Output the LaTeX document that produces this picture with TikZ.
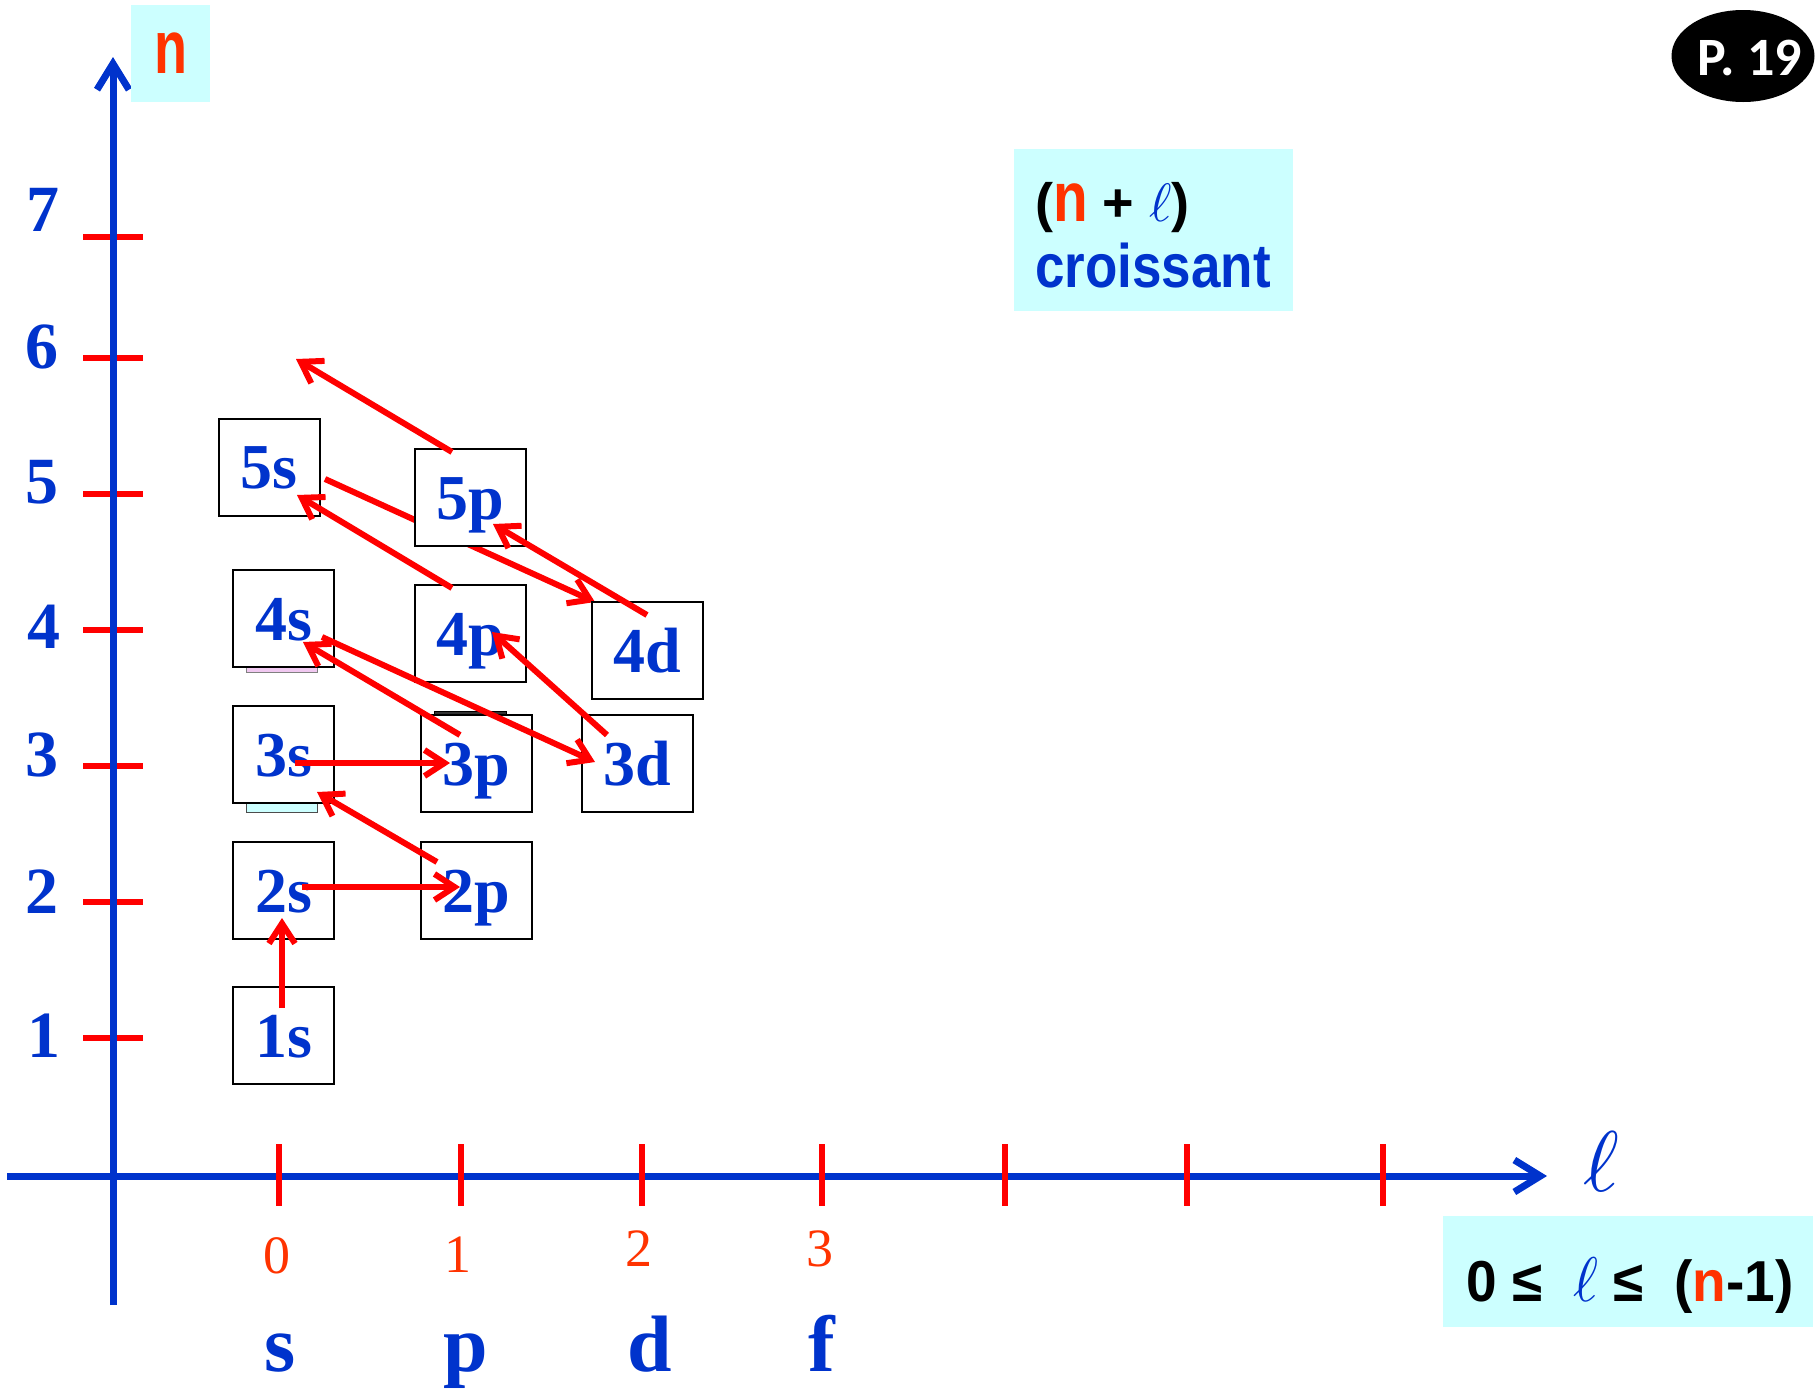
\documentclass[tikz,border=0pt]{standalone}
\usepackage{fontspec}
\usepackage{graphicx}
\usetikzlibrary{arrows.meta, calc, backgrounds, shapes.geometric}

\newfontfamily\orbserif{Liberation Serif}
\newfontfamily\orbsans{Liberation Sans}
\newfontfamily\pagefont{Carlito}

\definecolor{axblue}{HTML}{0033CC}
\definecolor{tickred}{HTML}{FF0000}
\definecolor{nred}{HTML}{FF3300}
\definecolor{boxcyan}{HTML}{CCFFFF}
\definecolor{stripink}{HTML}{F0C8F0}

\newcommand{\fsz}[1]{\fontsize{#1}{#1}\selectfont}
\newcommand{\ellof}[1]{{\fontsize{10}{12}\selectfont\scalebox{#1}{$\ell$}}}

\tikzset{
  axis/.style={axblue, line width=7pt, -{Straight Barb[length=26pt,width=32pt]}},
  tickmark/.style={tickred, line width=6pt},
  arr/.style={tickred, line width=6pt, -{Straight Barb[length=20pt,width=26pt]}},
  orb/.style={draw=black, line width=2pt, fill=white, minimum height=97pt, inner sep=0pt,
    text=axblue, font=\orbserif\bfseries\fsz{64}, text height=43pt, text depth=0pt},
  orbs/.style={orb, minimum width=101pt},
  orbp/.style={orb, minimum width=111pt},
  ylab/.style={text=axblue, font=\orbserif\bfseries\fsz{66}, inner sep=0pt},
  lnum/.style={text=nred, font=\orbserif\fsz{54}, inner sep=0pt},
  lname/.style={text=axblue, font=\orbserif\bfseries\fsz{80}, inner sep=0pt, anchor=base},
  cyanbox/.style={fill=boxcyan, inner sep=0pt},
}

\begin{document}
\begin{tikzpicture}[x=1pt, y=-1pt]
  \useasboundingbox (0,0) rectangle (1816,1390);

  % n axis
  \draw[tickmark] (83,1038) -- (143,1038);
  \draw[tickmark] (83,902) -- (143,902);
  \draw[tickmark] (83,766) -- (143,766);
  \draw[tickmark] (83,630) -- (143,630);
  \draw[tickmark] (83,494) -- (143,494);
  \draw[tickmark] (83,358) -- (143,358);
  \draw[tickmark] (83,237) -- (143,237);
  \draw[axis] (113,1305) -- (113,57);
  \node[ylab] (y1) at (44,1036) {1};
  \node[ylab] (y2) at (42,892) {2};
  \node[ylab] (y3) at (42,755) {3};
  \node[ylab] (y4) at (44,627) {4};
  \node[ylab] (y5) at (42,482) {5};
  \node[ylab] (y6) at (42,347) {6};
  \node[ylab] (y7) at (43,210) {7};
  \node[cyanbox, minimum width=79pt, minimum height=97pt, text=nred,
    font=\orbsans\bfseries\fsz{54}] (nbox) at (170.5,53.5) {\scalebox{1}[1.4]{n}};

  % l axis
  \draw[axis] (7,1176) -- (1547,1176);
  \draw[tickmark] (279,1144) -- (279,1206);
  \draw[tickmark] (461,1144) -- (461,1206);
  \draw[tickmark] (642,1144) -- (642,1206);
  \draw[tickmark] (822,1144) -- (822,1206);
  \draw[tickmark] (1005,1144) -- (1005,1206);
  \draw[tickmark] (1187,1144) -- (1187,1206);
  \draw[tickmark] (1383,1144) -- (1383,1206);
  \node[text=axblue, inner sep=0pt] (lax) at (1601,1162) {\ellof{8.6}};
  \node[lnum] (l0) at (277,1256) {0};
  \node[lnum] (l1) at (458,1255) {1};
  \node[lnum] (l2) at (639,1249) {2};
  \node[lnum] (l3) at (820,1249) {3};
  \node[lname] (ls) at (280,1371) {s};
  \node[lname] (lp) at (466,1371) {p};
  \node[lname] (ld) at (650,1371) {d};
  \node[lname] (lf) at (822,1371) {f};

  % strips under the boxes
  \draw[fill=boxcyan, draw=black!70, line width=1pt] (246,798) rectangle (317,812);
  \draw[fill=stripink, draw=black!50, line width=0.8pt] (246,662) rectangle (317,672);
  \draw[fill=black!80, line width=1pt] (434,711) rectangle (506,717);

  % orbitals
  \node[orbs] (o1s) at (283.5,1035.5) {1s};
  \node[orbs] (o2s) at (283.5,890.5) {2s};
  \node[orbp] (o2p) at (476.5,890.5) {2p};
  \node[orbs] (o3s) at (283.5,754.5) {3s};
  \node[orbp] (o3p) at (476.5,763.5) {3p};
  \node[orbp] (o3d) at (637,763.5) {3d};
  \node[orbs] (o4s) at (283.5,618.5) {4s};
  \node[orbp] (o4p) at (470.5,633.5) {4p};
  \node[orbp] (o4d) at (647,650.5) {4d};
  \node[orbs] (o5s) at (269,467) {5s};
  \node[orbp] (o5p) at (470.5,497.5) {5p};
  \coordinate (c6) at (296,359);

  % filling order
  \draw[arr] ($(o1s)+(-1.5,-27.5)$) -- ($(o2s)+(-1.5,27.5)$);
  \draw[arr] ($(o2s)+(18.5,-3.5)$) -- ($(o2p)+(-16.5,-3.5)$);
  \draw[arr] ($(o2p)+(-39.5,-28.5)$) -- ($(o3s)+(33.5,37.5)$);
  \draw[arr] ($(o3s)+(11.5,8.5)$) -- ($(o3p)+(-26.5,-0.5)$);
  \draw[arr] ($(o3p)+(-16.5,-28.5)$) -- ($(o4s)+(19.5,23.5)$);
  \draw[arr] ($(o4s)+(38.5,18.5)$) -- ($(o3d)+(-42,-1.5)$);
  \draw[arr] ($(o3d)+(-30,-28.5)$) -- ($(o4p)+(21.5,-1.5)$);
  \draw[arr] ($(o4p)+(-18.5,-45.5)$) -- ($(o5s)+(28,28)$);
  \begin{pgfonlayer}{background}
    \draw[arr] ($(o5s)+(56,12)$) -- ($(o4d)+(-52,-48.5)$);
  \end{pgfonlayer}
  \draw[arr] ($(o4d)+(0,-35.5)$) -- ($(o5p)+(22.5,26.5)$);
  \draw[arr] ($(o5p)+(-18.5,-45.5)$) -- (c6);

  % rule boxes
  \node[cyanbox, minimum width=279pt, minimum height=162pt] (sumbox) at (1153.5,230) {};
  \node[anchor=base west, inner sep=0pt, font=\orbsans\bfseries\fsz{54}] (sumtxt) at (1035,221)
    {(\textcolor{nred}{\scalebox{1.05}[1.3]{n}} + \textcolor{axblue}{\ellof{5.4}})};
  \node[anchor=base west, inner sep=0pt, text=axblue, font=\orbsans\bfseries\fsz{53}] (croist) at (1035,287)
    {\scalebox{1}[1.16]{croissant}};
  \node[cyanbox, minimum width=370pt, minimum height=111pt] (rangebox) at (1628,1271.5) {};
  \node[anchor=base, inner sep=0pt, font=\orbsans\bfseries\fsz{55}] (rangetxt) at (1630,1301)
    {\scalebox{1}[1.05]{0 ≤\ \ \textcolor{axblue}{\ellof{6}} ≤\ \ (\textcolor{nred}{n}-1)}};

  % page
  \node[ellipse, fill=black, minimum width=143pt, minimum height=92pt, inner sep=0pt] (page) at (1743,56) {};
  \node[text=white, font=\pagefont\bfseries\fsz{54}, inner sep=0pt] (pagetxt) at (1750,58) {P. 19};
\end{tikzpicture}
\end{document}
